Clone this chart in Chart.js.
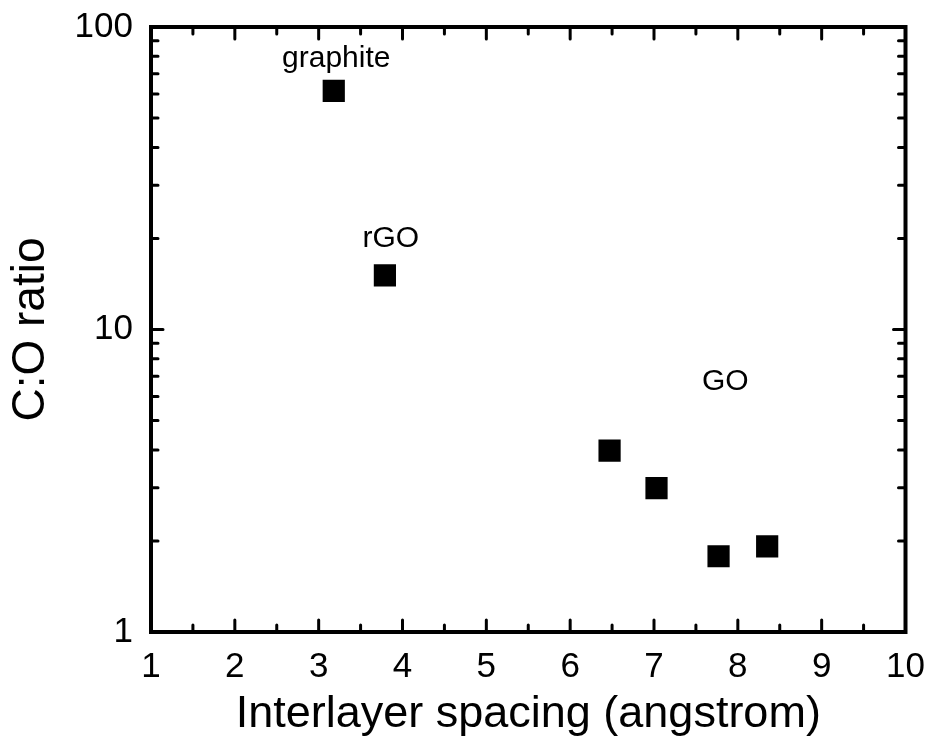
<!DOCTYPE html>
<html>
<head>
<meta charset="utf-8">
<script src="https://cdn.jsdelivr.net/npm/chart.js@4.4.1/dist/chart.umd.min.js"></script>
<style>
  html, body { margin: 0; padding: 0; background: #fff; }
  #wrap { width: 930px; height: 742px; }
</style>
</head>
<body>
<div id="wrap"><canvas id="plot" width="930" height="742"></canvas></div>
<script>
  // Interlayer spacing vs C:O ratio
  var SPACING = [3.18, 3.79, 6.47, 7.03, 7.77, 8.35];
  var CO_RATIO = [61.5, 15.1, 3.98, 2.99, 1.78, 1.92];

  var LABELS = ["graphite", "rGO", "GO"];
  var LABEL_X = [3.21, 3.86, 7.85];
  var LABEL_Y = [73.5, 18.7, 6.3];

  var X_MAJOR = [1, 2, 3, 4, 5, 6, 7, 8, 9, 10];
  var X_MINOR = [1.5, 2.5, 3.5, 4.5, 5.5, 6.5, 7.5, 8.5, 9.5];
  var Y_MAJOR = [1, 10, 100];
  var Y_MINOR = [2, 3, 4, 5, 6, 7, 8, 9, 20, 30, 40, 50, 60, 70, 80, 90];

  var FONT = "'Liberation Sans', Arial, Helvetica, sans-serif";

  // frame + inward ticks on all four sides
  var frameTicks = {
    id: "frameTicks",
    afterDraw: function (chart) {
      var ctx = chart.ctx;
      var a = chart.chartArea;
      var xs = chart.scales.x;
      var ys = chart.scales.y;
      ctx.save();
      ctx.strokeStyle = "#000";
      ctx.lineCap = "round";
      ctx.lineWidth = 3;
      function xt(list, len) {
        list.forEach(function (v) {
          var px = xs.getPixelForValue(v);
          ctx.beginPath();
          ctx.moveTo(px, a.bottom); ctx.lineTo(px, a.bottom - len);
          ctx.moveTo(px, a.top); ctx.lineTo(px, a.top + len);
          ctx.stroke();
        });
      }
      function yt(list, len) {
        list.forEach(function (v) {
          var py = ys.getPixelForValue(v);
          ctx.beginPath();
          ctx.moveTo(a.left, py); ctx.lineTo(a.left + len, py);
          ctx.moveTo(a.right, py); ctx.lineTo(a.right - len, py);
          ctx.stroke();
        });
      }
      xt(X_MAJOR, 12); xt(X_MINOR, 7);
      yt(Y_MAJOR, 12); yt(Y_MINOR, 7);
      ctx.lineCap = "square";
      ctx.lineWidth = 4;
      ctx.strokeRect(a.left, a.top, a.right - a.left, a.bottom - a.top);
      ctx.restore();
    }
  };

  var pointLabels = {
    id: "pointLabels",
    afterDatasetsDraw: function (chart) {
      var ctx = chart.ctx;
      ctx.save();
      ctx.fillStyle = "#000";
      ctx.font = "30px " + FONT;
      ctx.textAlign = "center";
      ctx.textBaseline = "alphabetic";
      LABELS.forEach(function (t, i) {
        ctx.fillText(t, chart.scales.x.getPixelForValue(LABEL_X[i]), chart.scales.y.getPixelForValue(LABEL_Y[i]));
      });
      ctx.restore();
    }
  };

  new Chart(document.getElementById("plot"), {
    type: "scatter",
    data: {
      datasets: [{
        label: "C:O",
        data: SPACING.map(function (x, i) { return { x: x, y: CO_RATIO[i] }; }),
        pointStyle: "rect",
        pointRadius: 15.7,
        pointHoverRadius: 15.7,
        backgroundColor: "#000",
        borderWidth: 0
      }]
    },
    options: {
      responsive: false,
      devicePixelRatio: 1,
      animation: false,
      layout: { padding: { top: 27, right: 24.5, left: 0, bottom: 0 } },
      plugins: { legend: { display: false }, tooltip: { enabled: false } },
      scales: {
        x: {
          type: "linear",
          min: 1,
          max: 10,
          afterFit: function (s) { s.height = 110; s.paddingLeft = 0; s.paddingRight = 0; },
          afterBuildTicks: function (s) { s.ticks = X_MAJOR.map(function (v) { return { value: v }; }); },
          grid: { display: false, drawTicks: false },
          border: { display: false },
          ticks: { color: "#000", padding: 14, maxRotation: 0, font: { family: FONT, size: 35 } },
          title: { display: true, text: "Interlayer spacing (angstrom)", color: "#000", padding: { top: 0, bottom: 0 }, font: { family: FONT, size: 45 } }
        },
        y: {
          type: "logarithmic",
          min: 1,
          max: 100,
          afterFit: function (s) { s.width = 151; s.paddingTop = 0; s.paddingBottom = 0; },
          afterBuildTicks: function (s) { s.ticks = Y_MAJOR.map(function (v) { return { value: v }; }); },
          grid: { display: false, drawTicks: false },
          border: { display: false },
          ticks: { color: "#000", padding: 18, font: { family: FONT, size: 35 }, callback: function (v) { return String(v); } },
          title: { display: true, text: "C:O ratio", color: "#000", padding: { top: 4, bottom: 0 }, font: { family: FONT, size: 46 } }
        }
      }
    },
    plugins: [frameTicks, pointLabels]
  });
</script>
</body>
</html>
